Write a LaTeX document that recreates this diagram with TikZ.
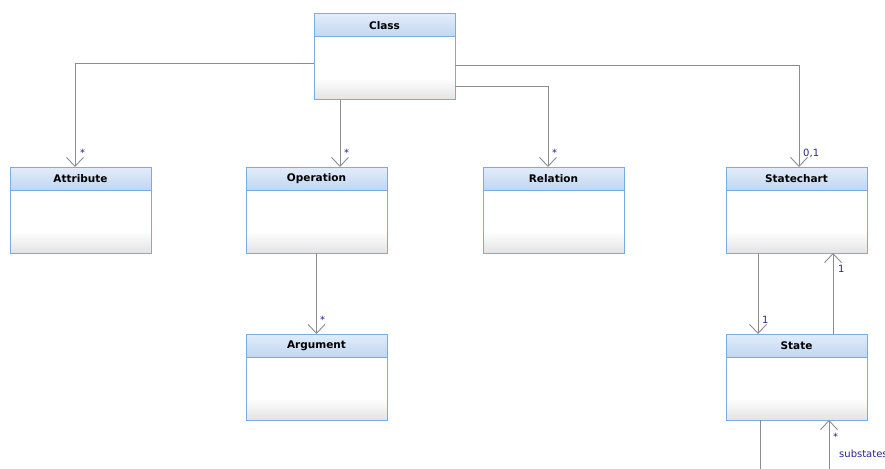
\documentclass[tikz,border=0pt]{standalone}
\usepackage{fontspec}
\setmainfont{DejaVu Sans}
\usetikzlibrary{arrows.meta}
\definecolor{boxborder}{RGB}{122,172,228}
\definecolor{headtop}{RGB}{226,236,250}
\definecolor{headbot}{RGB}{194,216,242}
\definecolor{bodybot}{RGB}{228,228,228}
\definecolor{linegray}{RGB}{140,140,140}
\definecolor{multblue}{RGB}{36,36,150}
\tikzset{
  classbox/.style={draw=boxborder, line width=1pt, fill=white, minimum width=141pt,
    minimum height=86pt, inner sep=0pt, outer sep=0pt,
    path picture={
      \foreach \i [evaluate=\i as \p using 100-100*\i/21] in {0,...,21}
        \fill[bodybot!\p!white] ([yshift=\i pt]path picture bounding box.south west)
          rectangle ([yshift=\i pt+1.2pt]path picture bounding box.south east);
      \foreach \i [evaluate=\i as \p using 100*\i/22] in {0,...,22}
        \fill[headbot!\p!headtop] ([yshift=-\i pt]path picture bounding box.north west)
          rectangle ([yshift=-\i pt-1.2pt]path picture bounding box.north east);
      \draw[boxborder, line width=1pt] ([yshift=-23pt]path picture bounding box.north west)
        -- ([yshift=-23pt]path picture bounding box.north east);
    },
    label={[anchor=center, yshift=-11.5pt, font=\bfseries\fontsize{10.5}{12}\selectfont]north:#1}},
  assoc/.style={draw=linegray, line width=0.9pt, -{Straight Barb[length=9pt, width=17pt, line width=0.9pt]}},
  plain/.style={draw=linegray, line width=0.9pt},
  mult/.style={text=multblue, font=\fontsize{10}{12}\selectfont, inner sep=0pt}
}
\begin{document}
\begin{tikzpicture}[x=1pt, y=-1pt]
\useasboundingbox (0,0) rectangle (885,468);
\node (cls) [classbox=Class] at (384.5,57) {};
\node (attr) [classbox=Attribute] at (80.5,210) {};
\node (op) [classbox=Operation] at (316.5,210) {};
\node (rel) [classbox=Relation] at (553.5,210) {};
\node (sc) [classbox=Statechart] at (796.5,210) {};
\node (arg) [classbox=Argument] at (316.5,377) {};
\node (st) [classbox=State] at (796.5,377) {};
\coordinate (down) at (760,470);
\coordinate (up) at (829,470);
\draw[assoc] ([yshift=-6pt]cls.west) -| ([xshift=-5.5pt]attr.north);
\draw[assoc] (cls.south -| 340,0) -- (op.north -| 340,0);
\draw[assoc] ([yshift=-29pt]cls.east) -| ([xshift=-5.5pt]rel.north);
\draw[assoc] ([yshift=-8pt]cls.east) -| ([xshift=2.5pt]sc.north);
\draw[assoc] (op.south) -- (arg.north);
\draw[assoc] (sc.south -| 758,0) -- (st.north -| 758,0);
\draw[assoc] (st.north -| 833,0) -- (sc.south -| 833,0);
\draw[plain] (st.south -| down) -- (down);
\draw[assoc] (up) -- (st.south -| up);
\node (m1) [mult, anchor=base west] at (80,156) {*};
\node (m2) [mult, anchor=base west] at (344,156) {*};
\node (m3) [mult, anchor=base west] at (552,156) {*};
\node (m4) [mult, anchor=base west] at (803,156) {0,1};
\node (m5) [mult, anchor=base west] at (320,323) {*};
\node (m6) [mult, anchor=base west] at (762,323) {1};
\node (m7) [mult, anchor=base west] at (838,272) {1};
\node (m8) [mult, anchor=base west] at (833,440) {*};
\node (sub) [mult, anchor=base west] at (839,457) {substates};
\end{tikzpicture}
\end{document}
